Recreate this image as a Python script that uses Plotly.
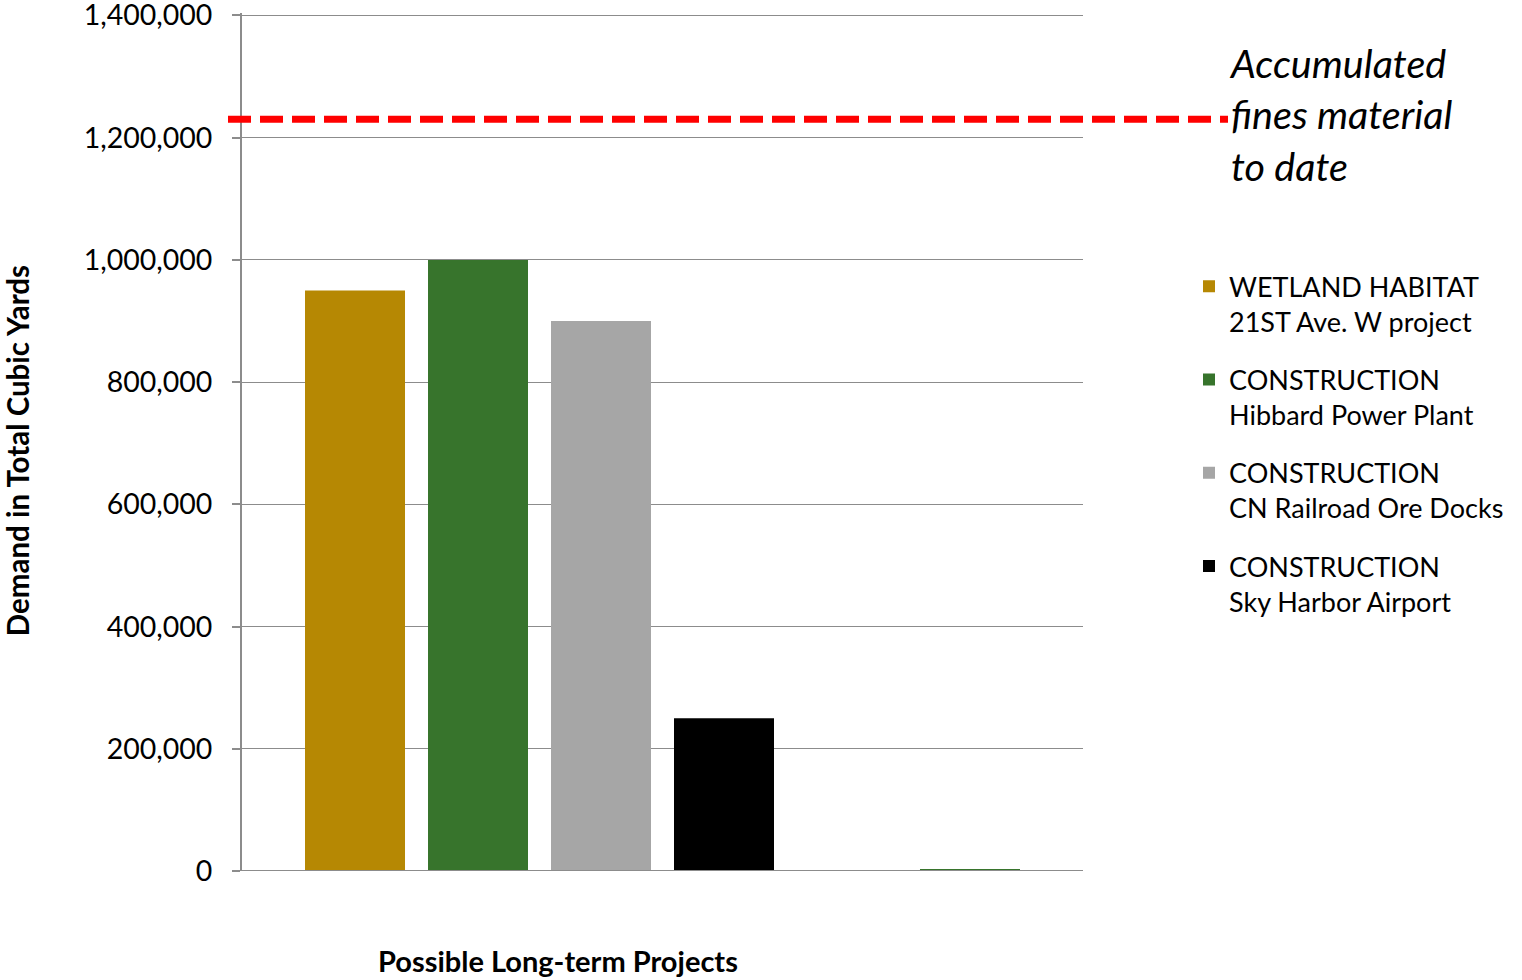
import plotly.graph_objects as go

category = ["Possible Long-term Projects"]
series_names = [
    "WETLAND HABITAT<br>21ST Ave. W project",
    "CONSTRUCTION<br>Hibbard Power Plant",
    "CONSTRUCTION<br>CN Railroad Ore Docks",
    "CONSTRUCTION<br>Sky Harbor Airport",
    "",
    "",
]
series_values = [950000, 1000000, 900000, 250000, 0, 2000]
series_colors = ["#B68803", "#37742C", "#A6A6A6", "#000000", "#FFFFFF", "#37742C"]
series_in_legend = [True, True, True, True, False, False]
accumulated_fines = 1230000
y_ticks = [0, 200000, 400000, 600000, 800000, 1000000, 1200000, 1400000]
y_max = 1404000

FONT = "Lato"
W, H = 1522, 980
L, R, B = 242, 1083, 871
T = B - (B - 15) * y_max / 1400000
pw, ph = R - L, B - T

fig = go.Figure()
for i, (name, val, col, show) in enumerate(zip(series_names, series_values, series_colors, series_in_legend)):
    fig.add_trace(go.Bar(
        x=category, y=[val], name=name, marker_color=col, marker_line_width=0,
        showlegend=show, legendgroup=f"g{i}",
    ))

def px_x(x):
    return (x - L) / pw

def px_y(y):
    return (B - y) / ph

fig.update_layout(
    width=W, height=H,
    margin=dict(l=L, r=W - R, t=T, b=H - B, pad=0, autoexpand=False),
    paper_bgcolor="white", plot_bgcolor="white",
    barmode="group", bargap=0.1225, bargroupgap=0.187,
    font=dict(family=FONT, size=27, color="black"),
    showlegend=True,
    legend=dict(
        x=px_x(1189), y=px_y(262), xanchor="left", yanchor="top",
        traceorder="grouped", tracegroupgap=20, valign="top",
        font=dict(family=FONT, size=27, color="black"),
        bgcolor="rgba(0,0,0,0)", itemwidth=30,
    ),
    xaxis=dict(showticklabels=False, showgrid=False, zeroline=False, showline=False, ticks=""),
    yaxis=dict(
        range=[0, y_max], tickvals=y_ticks, tickformat=",d",
        showgrid=True, gridcolor="#8C8C8C", gridwidth=1.3,
        zeroline=False, showline=True, linecolor="#8C8C8C", linewidth=2,
        ticks="outside", ticklen=8, tickcolor="#8C8C8C", tickwidth=2,
        ticklabelstandoff=14, ticklabeloverflow="allow",
        tickfont=dict(family=FONT, size=28.5, color="black"),
    ),
)

# baseline at zero spanning across the plot
fig.add_shape(type="line", xref="paper", yref="y", x0=px_x(234), x1=1, y0=0, y1=0,
              line=dict(color="#8C8C8C", width=2), layer="above")

# accumulated fines dashed line
fig.add_shape(type="line", xref="paper", yref="y", x0=px_x(228), x1=px_x(1228),
              y0=accumulated_fines, y1=accumulated_fines,
              line=dict(color="#FF0000", width=7, dash="23px,9px"), layer="above")

fig.add_annotation(
    text="<i>Accumulated<br>fines material<br>to date</i>",
    xref="paper", yref="paper", x=px_x(1227), y=px_y(37), xanchor="left", yanchor="top",
    align="left", showarrow=False, font=dict(family=FONT, size=39.5, color="black"),
)

fig.add_annotation(
    text="<b>Demand in Total Cubic Yards</b>", textangle=-90,
    xref="paper", yref="paper", x=px_x(17), y=px_y(451), xanchor="center", yanchor="middle",
    showarrow=False, font=dict(family=FONT, size=29.5, color="black"),
)

fig.add_annotation(
    text="<b>Possible Long-term Projects</b>",
    xref="paper", yref="paper", x=px_x(558), y=px_y(961), xanchor="center", yanchor="middle",
    showarrow=False, font=dict(family=FONT, size=29, color="black"), borderpad=0,
)

fig.write_html("out.html")
